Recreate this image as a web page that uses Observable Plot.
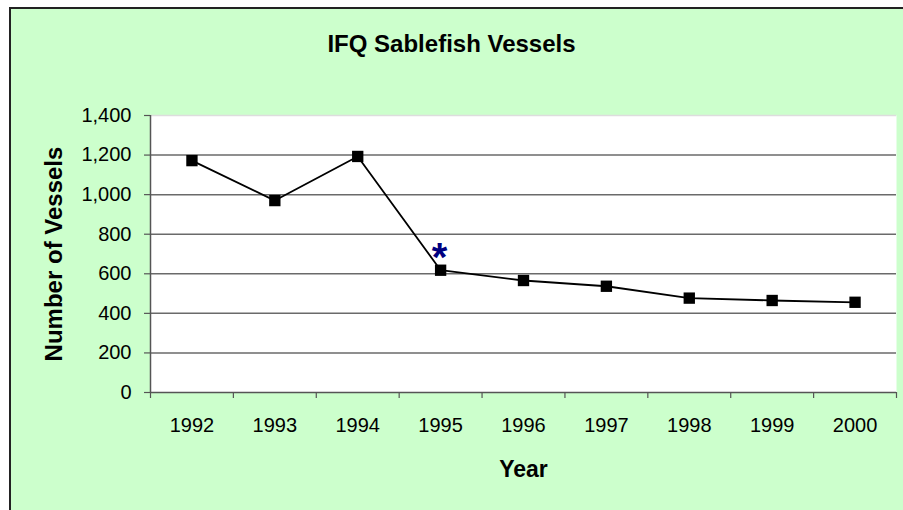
<!DOCTYPE html>
<html>
<head>
<meta charset="utf-8">
<script src="https://cdn.jsdelivr.net/npm/d3@7"></script>
<script src="https://cdn.jsdelivr.net/npm/@observablehq/plot@0.6"></script>
<style>
  html, body { margin: 0; padding: 0; background: #fff; overflow: hidden; }
  #box { position: absolute; left: 9px; top: 7px; width: 2000px; height: 2000px; background: #CCFFCC; border-left: 2px solid #222; border-top: 2px solid #222; }
  #chart { position: absolute; left: 0; top: 0; }
</style>
</head>
<body>
<div id="box"></div>
<div id="chart"></div>
<script>
const title = "IFQ Sablefish Vessels";
const xLabel = "Year";
const yLabel = "Number of Vessels";
const years = [1992, 1993, 1994, 1995, 1996, 1997, 1998, 1999, 2000];
const vessels = [1172, 970, 1193, 618, 566, 537, 477, 465, 456];
const yTicks = [0, 200, 400, 600, 800, 1000, 1200, 1400];
const annotations = [{year: 1995, label: "*"}];

const data = years.map((y, i) => ({year: y, value: vessels[i]}));
const bounds = years.map(y => y - 0.5).concat([years[years.length - 1] + 0.5]);
const notes = annotations.map(a => ({...a, value: vessels[years.indexOf(a.year)]}));

const chart = Plot.plot({
  width: 903,
  height: 510,
  marginLeft: 150,
  marginRight: 7,
  marginTop: 115,
  marginBottom: 118,
  style: {background: "transparent", fontFamily: "Arial, 'Liberation Sans', sans-serif", color: "#000"},
  x: {type: "linear", domain: [bounds[0], bounds[bounds.length - 1]], axis: null},
  y: {domain: [0, 1400], axis: null},
  marks: [
    Plot.frame({fill: "white", stroke: null}),
    Plot.ruleY(yTicks.filter(d => d > 0), {stroke: d => d === 1400 ? "#dddddd" : "#6a6a6a", strokeWidth: 1.5}),
    Plot.ruleX([bounds[0]], {stroke: "#555", strokeWidth: 1.5}),
    Plot.ruleY([0], {stroke: "#555", strokeWidth: 1.5}),
    Plot.axisY({ticks: yTicks, label: null, tickSize: 6, tickPadding: 13, fontSize: 20, tickFormat: d3.format(","), stroke: "#555", strokeWidth: 1.2, color: "#000"}),
    Plot.axisX({ticks: bounds, label: null, tickSize: 6, tickFormat: () => "", stroke: "#555", strokeWidth: 1.2}),
    Plot.text(years, {x: d => d, frameAnchor: "bottom", dy: 39, lineAnchor: "bottom", text: d => String(d), fontSize: 20, fill: "#000"}),
    Plot.line(data, {x: "year", y: "value", stroke: "#000", strokeWidth: 1.8}),
    Plot.dot(data, {x: "year", y: "value", symbol: "square", r: 6.4, fill: "#000", stroke: null}),
    Plot.text(notes, {x: "year", y: "value", text: "label", dx: -1, dy: 1, lineAnchor: "bottom", fontSize: 40, fontWeight: "bold", fill: "#000080"}),
    Plot.text([title], {frameAnchor: "top", dx: -72, dy: -64, lineAnchor: "bottom", fontSize: 24, fontWeight: "bold", fill: "#000"}),
    Plot.text([xLabel], {frameAnchor: "bottom", dy: 84, lineAnchor: "bottom", fontSize: 23, fontWeight: "bold", fill: "#000"}),
    Plot.text([yLabel], {frameAnchor: "left", textAnchor: "middle", dx: -89, rotate: -90, lineAnchor: "bottom", fontSize: 24, fontWeight: "bold", fill: "#000"})
  ]
});
document.getElementById("chart").appendChild(chart);
</script>
</body>
</html>
